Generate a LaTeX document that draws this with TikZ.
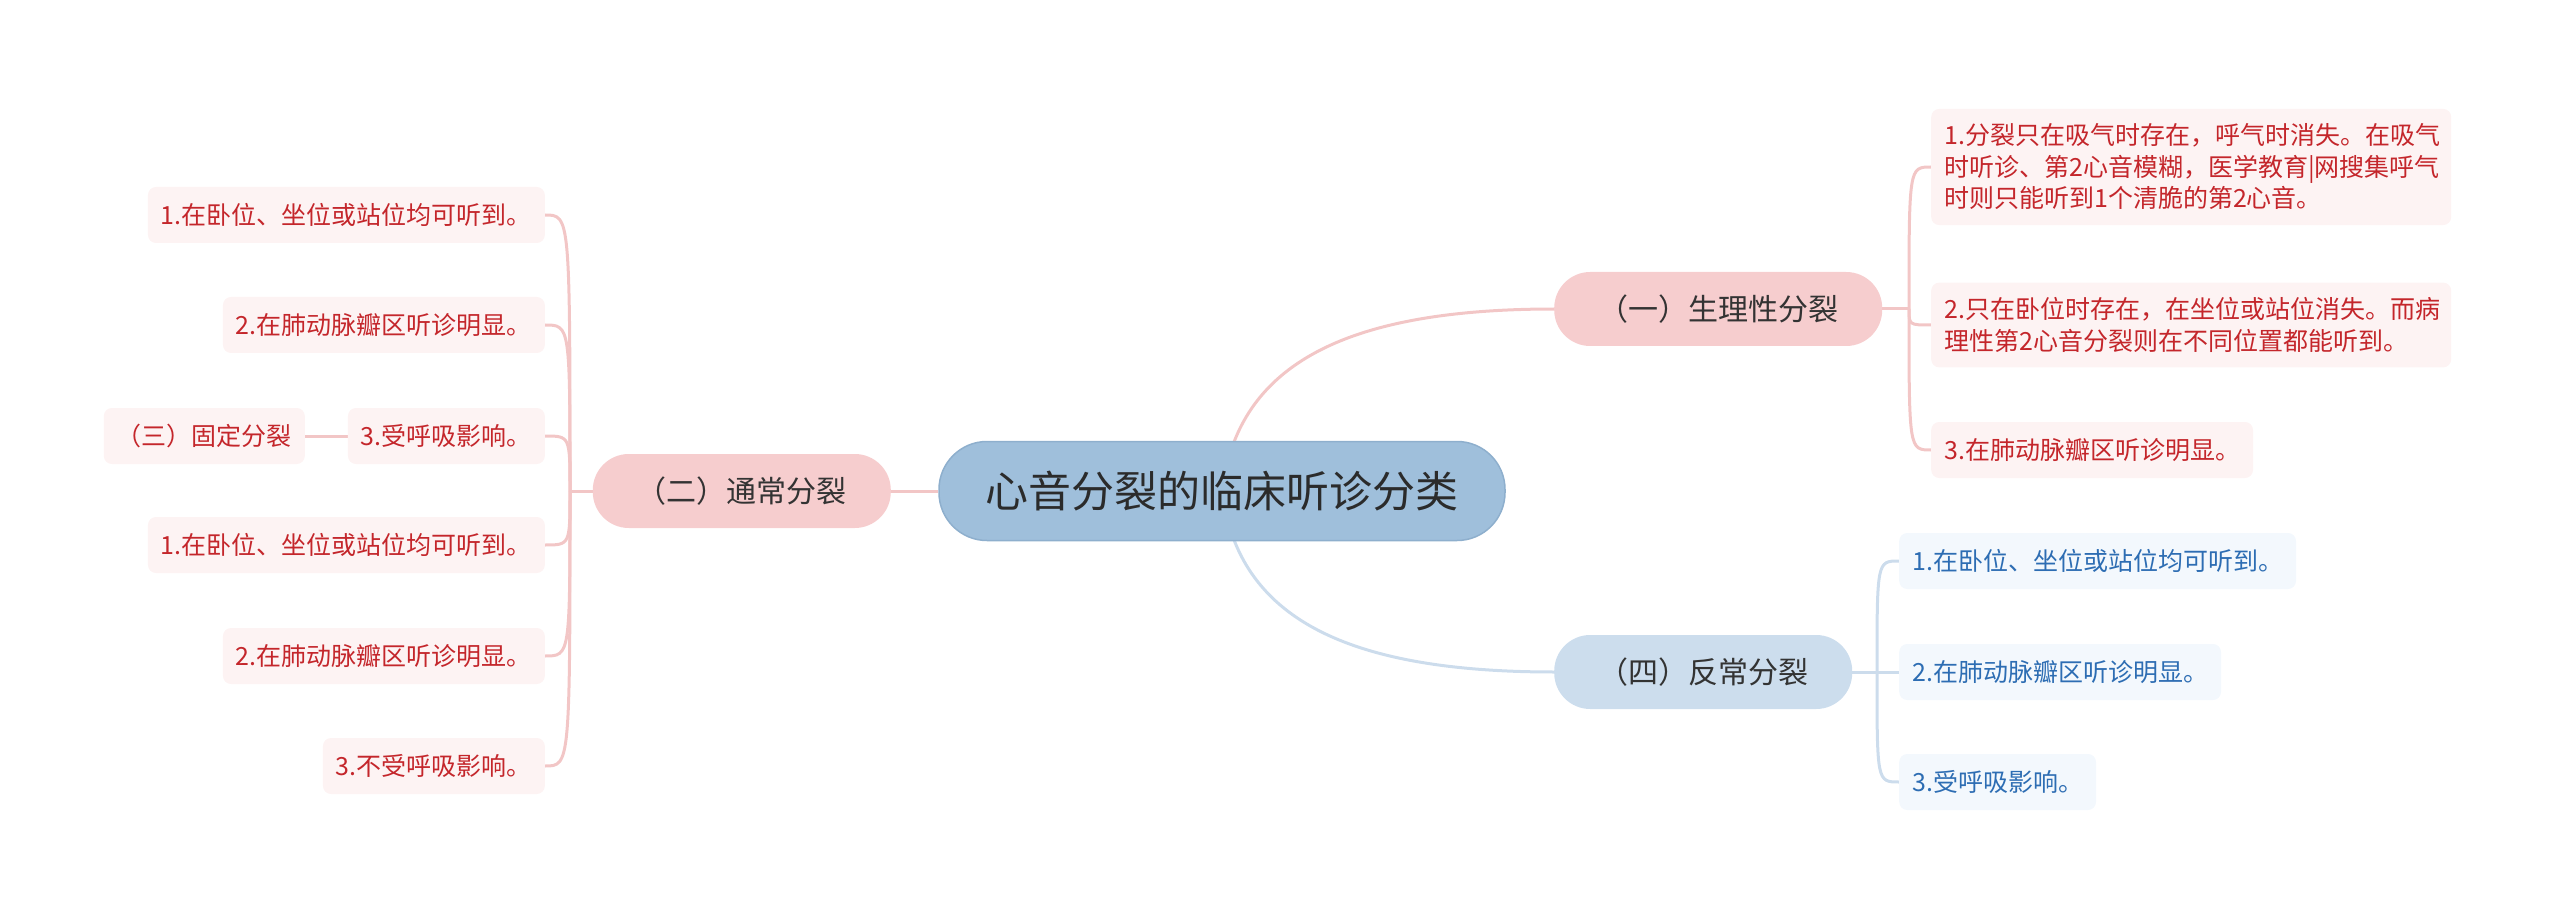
\documentclass[tikz,border=0pt]{standalone}
\usepackage{fontspec}
\setmainfont{Noto Sans CJK SC}
\usetikzlibrary{positioning, backgrounds}
\definecolor{rootfill}{HTML}{9FBFDB}
\definecolor{rootstr}{HTML}{8EAFCD}
\definecolor{titletext}{HTML}{2B2B2B}
\definecolor{topictext}{HTML}{333333}
\definecolor{pinkfill}{HTML}{F6CDCE}
\definecolor{pinkstr}{HTML}{F2C6C6}
\definecolor{pinkleaffill}{HTML}{FDF3F3}
\definecolor{pinktext}{HTML}{C4262B}
\definecolor{bluefill}{HTML}{CCDDED}
\definecolor{bluestr}{HTML}{CCDCEC}
\definecolor{blueleaffill}{HTML}{F3F8FD}
\definecolor{bluetext}{HTML}{2D6DB3}
\tikzset{
  rootbox/.style  ={rectangle, rounded corners=48pt, draw=rootstr, line width=1.5pt, fill=rootfill,
                    minimum width=566pt, minimum height=99pt, text=titletext,
                    font=\fontsize{43}{50}\selectfont},
  pinktopic/.style={rectangle, rounded corners=36pt, fill=pinkfill, minimum height=74pt,
                    inner xsep=44pt, text=topictext, font=\fontsize{30}{36}\selectfont},
  bluetopic/.style={pinktopic, fill=bluefill},
  pinkleaf/.style ={rectangle, rounded corners=8pt, fill=pinkleaffill, minimum height=56pt,
                    inner xsep=13pt, inner ysep=15pt, align=left, text=pinktext,
                    font=\fontsize{25}{31.5}\selectfont},
  blueleaf/.style ={pinkleaf, fill=blueleaffill, text=bluetext},
  pinkline/.style ={draw=pinkstr, line width=3pt},
  blueline/.style ={draw=bluestr, line width=3pt},
}
\begin{document}
\begin{tikzpicture}[x=1pt, y={(0,-1pt)}]
    \useasboundingbox (0,0) rectangle (2560,917);

    \node[rootbox] (root) at (1222,491) {心音分裂的临床听诊分类};
    \node[pinktopic, anchor=west] (phys) at (1554,309) {（一）生理性分裂};
    \node[pinktopic, anchor=east] (usual) at (891,491) {（二）通常分裂};
    \node[bluetopic, anchor=west] (para) at (1554,672) {（四）反常分裂};

    % right, upper
    \node[pinkleaf, anchor=west, text width=494pt] (phys1) at (1931,167)
      {1.分裂只在吸气时存在，呼气时消失。在吸气\\时听诊、第2心音模糊，医学教育|网搜集呼气\\时则只能听到1个清脆的第2心音。};
    \node[pinkleaf, anchor=west, text width=494pt] (phys2) at (1931,325)
      {2.只在卧位时存在，在坐位或站位消失。而病\\理性第2心音分裂则在不同位置都能听到。};
    \node[pinkleaf, anchor=west] (phys3) at (1931,450) {3.在肺动脉瓣区听诊明显。};

    % right, lower
    \node[blueleaf, anchor=west] (para1) at (1899,561) {1.在卧位、坐位或站位均可听到。};
    \node[blueleaf, anchor=west] (para2) at (1899,672) {2.在肺动脉瓣区听诊明显。};
    \node[blueleaf, anchor=west] (para3) at (1899,782) {3.受呼吸影响。};

    % left
    \node[pinkleaf, anchor=east] (usual1) at (545,215) {1.在卧位、坐位或站位均可听到。};
    \node[pinkleaf, anchor=east] (usual2) at (545,325) {2.在肺动脉瓣区听诊明显。};
    \node[pinkleaf, anchor=east] (usual3) at (545,436) {3.受呼吸影响。};
    \node[pinkleaf, anchor=east] (usual4) at (545,545) {1.在卧位、坐位或站位均可听到。};
    \node[pinkleaf, anchor=east] (usual5) at (545,656) {2.在肺动脉瓣区听诊明显。};
    \node[pinkleaf, anchor=east] (usual6) at (545,766) {3.不受呼吸影响。};
    \node[pinkleaf, anchor=east] (fixed) at (305,436) {（三）固定分裂};

    \coordinate (jphys) at (1909,309);
    \coordinate (jpara) at (1877,672);
    \coordinate (jusual) at (570,491);

    \begin{scope}[on background layer]
      \draw[pinkline] (root.center) .. controls +(15,-120) and +(-220,0) .. (phys.west);
      \draw[blueline] (root.center) .. controls +(15,120) and +(-220,0) .. (para.west);
      \draw[pinkline] (root.west) -- (usual.east);
      \draw[pinkline] (phys.east) -- (jphys);
      \draw[blueline] (para.east) -- (jpara);
      \draw[pinkline] (usual.west) -- (jusual);
      \foreach \n in {phys1,phys2,phys3}
        \draw[pinkline] (jphys) .. controls (jphys |- \n.west) .. (\n.west);
      \foreach \n in {para1,para2,para3}
        \draw[blueline] (jpara) .. controls (jpara |- \n.west) .. (\n.west);
      \foreach \n in {usual1,usual2,usual3,usual4,usual5,usual6}
        \draw[pinkline] (jusual) .. controls (jusual |- \n.east) .. (\n.east);
      \draw[pinkline] (usual3.west) -- (fixed.east);
    \end{scope}
\end{tikzpicture}
\end{document}
